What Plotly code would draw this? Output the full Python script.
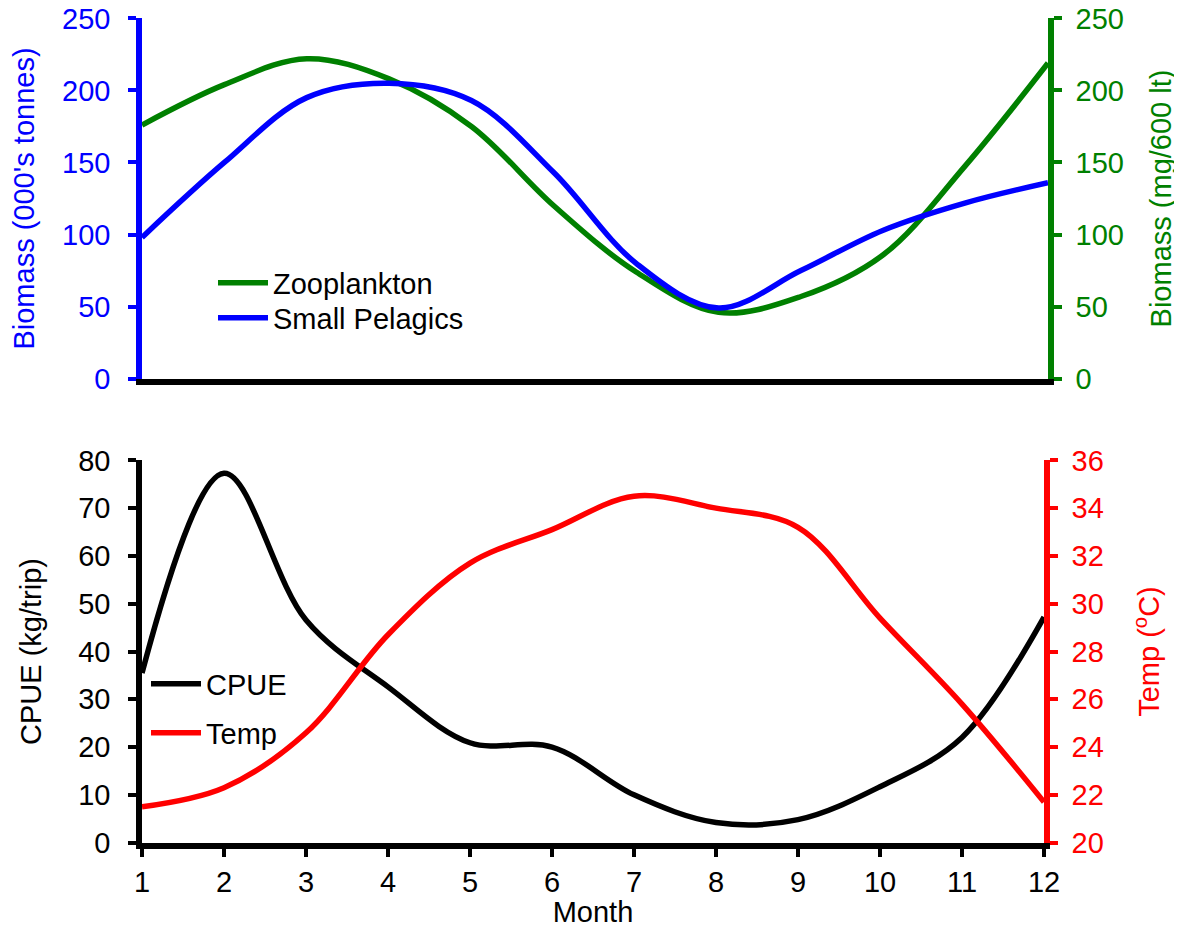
import plotly.graph_objects as go

months = list(range(1, 13))
month_ticks = [str(m) for m in months]

# Top panel
zooplankton = [176, 204, 222, 208, 175, 120, 74, 46, 57, 86, 148, 219]      # mg/600 lt (right axis)
small_pelagics = [98, 150, 195, 205, 193, 143, 80, 49, 75, 103, 122, 136]   # 000's tonnes (left axis)
biomass_ticks = [0, 50, 100, 150, 200, 250]

# Bottom panel
cpue = [35.5, 77.3, 46.6, 32.6, 20.9, 20.0, 10.0, 4.2, 4.8, 11.7, 22.0, 47.2]  # kg/trip (left)
temp = [21.5, 22.3, 24.6, 28.7, 31.7, 33.1, 34.5, 34.0, 33.2, 29.4, 25.8, 21.7]  # deg C (right)
cpue_ticks = [0, 10, 20, 30, 40, 50, 60, 70, 80]
temp_ticks = [20, 22, 24, 26, 28, 30, 32, 34, 36]

FONT = "Liberation Sans, Arial, sans-serif"
FS = 29
GREEN = "#008000"
BLUE = "#0000FF"
RED = "#FF0000"
BLACK = "#000000"

# page body has an 8px margin, so the figure is 8px smaller and positions are shifted by 8px
OFF = 8
W, H = 1182 - OFF, 928 - OFF
EPS = 1e-3


def px(x):
    return (x - OFF) / W


def py(y):
    return 1 - (y - OFF) / H


fig = go.Figure()

fig.add_trace(go.Scatter(x=months, y=zooplankton, name="Zooplankton", mode="lines",
                         line=dict(color=GREEN, width=5.5, shape="spline"),
                         xaxis="x", yaxis="y", legend="legend"))
fig.add_trace(go.Scatter(x=months, y=small_pelagics, name="Small Pelagics", mode="lines",
                         line=dict(color=BLUE, width=5.5, shape="spline"),
                         xaxis="x", yaxis="y2", legend="legend2"))
fig.add_trace(go.Scatter(x=months, y=cpue, name="CPUE", mode="lines",
                         line=dict(color=BLACK, width=5.5, shape="spline"),
                         xaxis="x2", yaxis="y3", legend="legend3"))
fig.add_trace(go.Scatter(x=months, y=temp, name="Temp", mode="lines",
                         line=dict(color=RED, width=5.5, shape="spline"),
                         xaxis="x2", yaxis="y4", legend="legend4"))

top_dom = [py(379), py(18)]
bot_dom = [py(843), py(460)]


def yax(color, ticks, side, title, domain, anchor, overlaying=None, standoff=20, lstand=12):
    lo, hi = ticks[0], ticks[-1]
    span = hi - lo
    d = dict(
        domain=domain, anchor=anchor, side=side,
        range=[lo - span * EPS, hi + span * EPS], tickvals=ticks,
        showgrid=False, zeroline=False, showline=True, linecolor=color, linewidth=5.5,
        ticks="outside", ticklen=8, tickwidth=4, tickcolor=color,
        tickfont=dict(color=color, size=FS, family=FONT),
        ticklabelstandoff=lstand, ticklabeloverflow="allow",
        title=dict(text=title, font=dict(color=color, size=FS, family=FONT), standoff=standoff),
        automargin=False, fixedrange=True,
    )
    if overlaying:
        d["overlaying"] = overlaying
    return d


def leg(xl, yc):
    return dict(x=px(xl), y=py(yc), xanchor="left", yanchor="middle",
                bgcolor="rgba(0,0,0,0)", borderwidth=0, itemwidth=50,
                font=dict(color=BLACK, size=FS, family=FONT))


fig.update_layout(
    width=W, height=H,
    margin=dict(l=0, r=0, t=0, b=0),
    paper_bgcolor="white", plot_bgcolor="rgba(0,0,0,0)",
    font=dict(family=FONT, size=FS, color=BLACK),
    xaxis=dict(domain=[px(142), px(1048)], anchor="y", range=[1, 12],
               showgrid=False, zeroline=False, showline=True, linecolor=BLACK, linewidth=5.5,
               ticks="", showticklabels=False, automargin=False, fixedrange=True),
    yaxis=yax(GREEN, biomass_ticks, "right", "Biomass (mg/600 lt)", top_dom, "x", standoff=30, lstand=8),
    yaxis2=yax(BLUE, biomass_ticks, "left", "Biomass (000's tonnes)", top_dom, "x", overlaying="y", standoff=25),
    xaxis2=dict(domain=[px(142), px(1044)], anchor="y3", range=[1, 12],
                tickvals=months, ticktext=month_ticks,
                showgrid=False, zeroline=False, showline=True, linecolor=BLACK, linewidth=5.5,
                ticks="outside", ticklen=8, tickwidth=4, tickcolor=BLACK,
                tickfont=dict(color=BLACK, size=FS, family=FONT), ticklabeloverflow="allow",
                title=dict(text="Month", font=dict(color=BLACK, size=FS, family=FONT), standoff=11),
                automargin=False, fixedrange=True),
    yaxis3=yax(BLACK, cpue_ticks, "left", "CPUE (kg/trip)", bot_dom, "x2", standoff=30),
    yaxis4=yax(RED, temp_ticks, "right", "Temp (<sup>o</sup>C)", bot_dom, "x2", overlaying="y3",
               standoff=38, lstand=8),
    legend=leg(213, 283),
    legend2=leg(213, 318),
    legend3=leg(146, 684),
    legend4=leg(146, 733),
    showlegend=True,
)

fig.write_html("out.html")
